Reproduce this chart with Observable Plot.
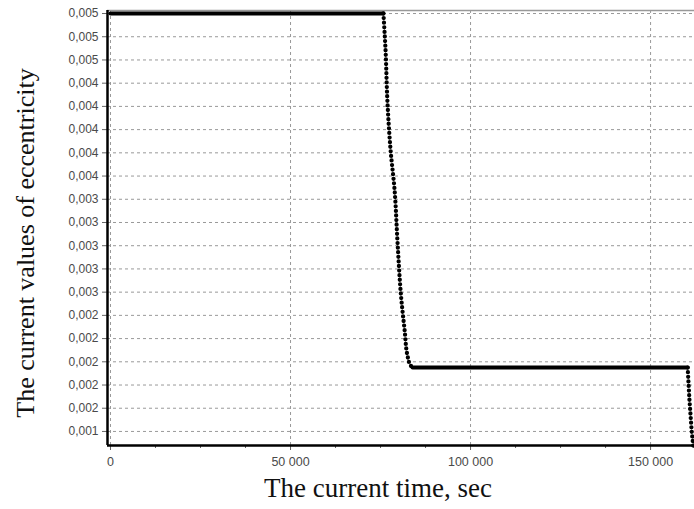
<!DOCTYPE html>
<html>
<head>
<meta charset="utf-8">
<script src="https://cdn.jsdelivr.net/npm/d3@7"></script>
<script src="https://cdn.jsdelivr.net/npm/@observablehq/plot@0.6"></script>
<style>
  html, body { margin: 0; padding: 0; background: #fff; }
</style>
</head>
<body>
<div id="chart"></div>
<script>
// ---- data ----
const plateau1Time  = [0, 75800];
const plateau1Value = [0.00500, 0.00500];

const drop1Time  = [75800, 76400, 76900, 77800, 78900, 79700, 80800, 81700, 82500, 83300, 83900];
const drop1Value = [0.00500, 0.00468, 0.00425, 0.00382, 0.00348, 0.00304, 0.00253, 0.00227, 0.00205, 0.00197, 0.00195];

const plateau2Time  = [83900, 160300];
const plateau2Value = [0.00195, 0.00195];

const drop2Time  = [160300, 160800, 161400, 161900];
const drop2Value = [0.00195, 0.00167, 0.00141, 0.00126];

const yTicks = [0.0050, 0.0048, 0.0046, 0.0044, 0.0042, 0.0040, 0.0038, 0.0036, 0.0034, 0.0032,
                0.0030, 0.0028, 0.0026, 0.0024, 0.0022, 0.0020, 0.0018, 0.0016, 0.0014];
const xTicks = [0, 50000, 100000, 150000];
const xMinorTicks = [12500, 25000, 37500, 62500, 75000, 87500, 112500, 125000, 137500];

const xTitle = "The current time, sec";
const yTitle = "The current values of eccentricity";

// ---- build tables ----
const zip = (t, v) => t.map((d, i) => ({t: d, v: v[i]}));
const plateau1 = zip(plateau1Time, plateau1Value);
const drop1 = zip(drop1Time, drop1Value);
const plateau2 = zip(plateau2Time, plateau2Value);
const drop2 = zip(drop2Time, drop2Value);

const xDomain = [-830, 162200];
const yDomain = [0.001279, 0.005026];

const fmtY = d => d3.format(".3f")(d).replace(".", ",");
const fmtX = d => d3.format(",")(d).replace(/,/g, " ");

const serif = "'Liberation Serif', 'Times New Roman', serif";

const chart = Plot.plot({
  width: 694,
  height: 509,
  marginLeft: 107,
  marginRight: 0,
  marginTop: 10,
  marginBottom: 64,
  style: {fontFamily: "'Liberation Sans', Arial, sans-serif", fontSize: "12px", color: "#444", background: "#fff"},
  x: {domain: xDomain},
  y: {domain: yDomain},
  marks: [
    // grid
    Plot.ruleY(yTicks, {stroke: "#999", strokeWidth: 1, strokeDasharray: "3,3"}),
    Plot.ruleX(xTicks, {stroke: "#999", strokeWidth: 1, strokeDasharray: "3,3"}),
    // top frame line
    Plot.ruleY([yDomain[1]], {stroke: "#999", strokeWidth: 1.5}),
    // axes
    Plot.axisY(yTicks, {tickFormat: fmtY, tickSize: 5, tickPadding: 4, stroke: "#666", fill: "#4a4a4a", label: null, fontSize: 12}),
    Plot.axisX(xTicks, {tickFormat: fmtX, tickSize: 5, tickPadding: 7, stroke: "#666", fill: "#4a4a4a", label: null, fontSize: 12.5}),
    Plot.axisX(xMinorTicks, {tickFormat: null, text: null, tickSize: 3, stroke: "#666", label: null}),
    Plot.ruleX([xDomain[0]], {stroke: "#000", strokeWidth: 2.5}),
    Plot.ruleY([yDomain[0]], {stroke: "#000", strokeWidth: 2.5}),
    // data
    Plot.line(plateau1, {x: "t", y: "v", stroke: "#000", strokeWidth: 4}),
    Plot.line(plateau2, {x: "t", y: "v", stroke: "#000", strokeWidth: 4}),
    Plot.line(drop1, {x: "t", y: "v", stroke: "#000", strokeWidth: 4.3, strokeDasharray: "0,4.6", strokeLinecap: "round", curve: "monotone-y"}),
    Plot.line(drop2, {x: "t", y: "v", stroke: "#000", strokeWidth: 4.3, strokeDasharray: "0,4.6", strokeLinecap: "round"}),
    // titles
    Plot.text([xTitle], {frameAnchor: "bottom", textAnchor: "middle", dy: 51, dx: -23, text: d => d, fontFamily: serif, fontSize: 27, fill: "#111"}),
    Plot.text([yTitle], {frameAnchor: "left", textAnchor: "middle", dx: -82, dy: 15, rotate: -90, text: d => d, fontFamily: serif, fontSize: 26, fill: "#111"})
  ]
});
document.getElementById("chart").appendChild(chart);
</script>
</body>
</html>
